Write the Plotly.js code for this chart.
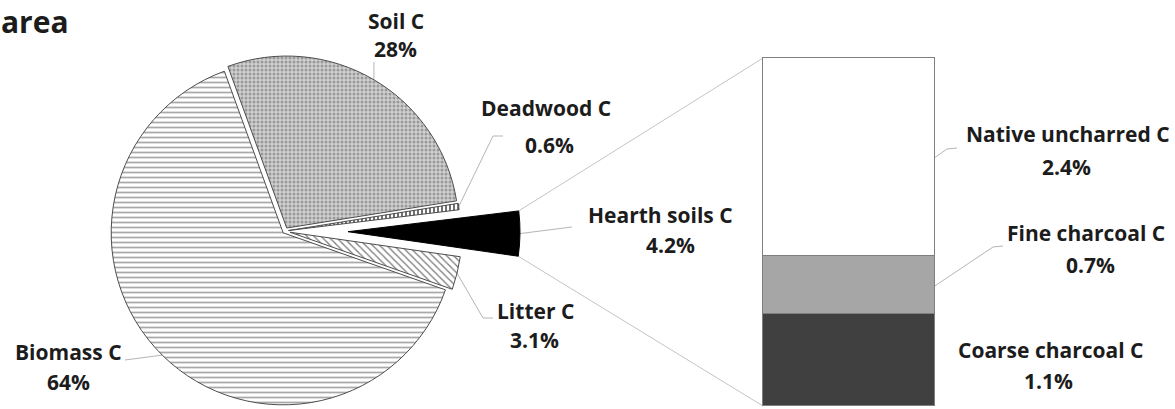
<!DOCTYPE html>
<html>
<head>
<meta charset="utf-8">
<script src="https://cdn.plot.ly/plotly-3.0.1.min.js"></script>
<style>html,body{margin:0;padding:0;background:#fff;}#chart{width:1175px;height:409px;}</style>
</head>
<body>
<div id="chart"></div>
<script>
// ---------------- data ----------------
const titleText = 'area';
const pieCategories = ['Soil C', 'Deadwood C', 'Hearth soils C', 'Litter C', 'Biomass C'];
const pieValues = [28, 0.6, 4.2, 3.1, 64];
const explodedCategory = 'Hearth soils C';
const barCategories = ['Coarse charcoal C', 'Fine charcoal C', 'Native uncharred C'];
const barValues = [1.1, 0.7, 2.4];

// ---------------- layout / style ----------------
const W = 1175, H = 409;
const pieCenter = [285, 231], pieRadius = 172, explodeDist = 63;
const pieRotation = -20;
const piePull = [0.02, 0.02, 0, 0.03, 0.015];
const pieBg = ['#d0d0d0', '#ffffff', '#000000', '#ffffff', '#ffffff'];
const pieFg = ['#999999', '#333333', '#000000', '#7a7a7a', '#a9a9a9'];
const pieShape = ['.', '|', '', '\\', '-'];
const pieSize = [4, 4, 8, 5, 5];
const pieSolid = [0.45, 0.35, 0.3, 0.25, 0.35];
const barColors = ['#404040', '#a6a6a6', '#ffffff'];
const barBox = {x0: 763, x1: 935, y0: 58, y1: 406};
const barPadX = 0.03, barPadYLo = 0.03, barPadYHi = 0.08;
const lineGray = '#b5b5b5';
const textColor = '#1c1c1c';
const fontFam = 'Open Sans, Noto Sans, sans-serif';
const fontSize = 21;
const labelPos = {
  'Soil C': {name: [396, 21], value: [396, 49], path: [[374, 62]]},
  'Deadwood C': {name: [546, 108], value: [549, 145], path: [[493, 136], [503, 136]]},
  'Hearth soils C': {name: [660, 215], value: [670, 245], path: [[572, 227]]},
  'Litter C': {name: [535, 311], value: [534, 340], path: [[483, 318], [493, 318]]},
  'Biomass C': {name: [68, 352], value: [68, 382], path: [[125, 360]]},
  'Native uncharred C': {name: [1068, 134], value: [1066, 167], path: [[947, 149], [957, 148]]},
  'Fine charcoal C': {name: [1086, 233], value: [1090, 265], path: [[993, 247], [1003, 246]]},
  'Coarse charcoal C': {name: [1050, 350], value: [1048, 381], path: null}
};

const px = x => x / W;
const py = y => 1 - y / H;
const T = 'rgba(0,0,0,0)';

// slice angles (degrees clockwise from 12 o'clock)
const total = pieValues.reduce((a, b) => a + b, 0);
const sliceAngles = [];
let acc = 0;
pieValues.forEach(v => {
  const a0 = pieRotation + acc / total * 360;
  acc += v;
  const a1 = pieRotation + acc / total * 360;
  sliceAngles.push([a0, a1, (a0 + a1) / 2]);
});
const dirOf = deg => [Math.sin(deg * Math.PI / 180), -Math.cos(deg * Math.PI / 180)];

// main pie domain
const maxPull = Math.max(...piePull);
const halfD = pieRadius * (1 + maxPull);
const mainDomain = {
  x: [px(pieCenter[0] - halfD), px(pieCenter[0] + halfD)],
  y: [Math.max(0, py(pieCenter[1] + halfD)), py(pieCenter[1] - halfD)]
};
// exploded slice pie
const hi = pieCategories.indexOf(explodedCategory);
const hDir = dirOf(sliceAngles[hi][2]);
const apex = [pieCenter[0] + explodeDist * hDir[0], pieCenter[1] + explodeDist * hDir[1]];
const expDomain = {
  x: [px(apex[0] - pieRadius), px(apex[0] + pieRadius)],
  y: [py(apex[1] + pieRadius), py(apex[1] - pieRadius)]
};

const mainPie = {
  type: 'pie', labels: pieCategories, values: pieValues, sort: false,
  direction: 'clockwise', rotation: pieRotation, textinfo: 'none', hoverinfo: 'label+percent',
  showlegend: false, domain: mainDomain,
  pull: piePull,
  marker: {
    colors: pieBg.map((c, i) => i === hi ? T : c),
    line: {color: pieCategories.map((c, i) => i === hi ? T : '#4d4d4d'), width: 1},
    pattern: {
      shape: pieShape.map((s, i) => i === hi ? '' : s),
      fgcolor: pieFg.map((c, i) => i === hi ? T : c),
      bgcolor: pieBg.map((c, i) => i === hi ? T : c),
      size: pieSize, solidity: pieSolid, fillmode: 'replace'
    }
  }
};
const explodedPie = {
  type: 'pie', labels: pieCategories, values: pieValues, sort: false,
  direction: 'clockwise', rotation: pieRotation, textinfo: 'none', hoverinfo: 'skip',
  showlegend: false, domain: expDomain,
  marker: {
    colors: pieBg.map((c, i) => i === hi ? c : T),
    line: {color: pieCategories.map((c, i) => i === hi ? '#000000' : T), width: 1}
  }
};

const barTotal = barValues.reduce((a, b) => a + b, 0);
const barTraces = barCategories.map((c, i) => ({
  type: 'bar', x: [0], y: [barValues[i]], name: c, width: 1,
  xaxis: 'x', yaxis: 'y', showlegend: false, cliponaxis: false,
  marker: {color: barColors[i], line: {color: '#7f7f7f', width: 1}},
  hovertemplate: c + ': %{y}%<extra></extra>'
}));
// axis geometry so that the bar (width 1, height = total) fills barBox
const pxPerX = barBox.x1 - barBox.x0;
const pxPerY = (barBox.y1 - barBox.y0) / barTotal;
const xDom = [px(barBox.x0 - barPadX * pxPerX), px(barBox.x1 + barPadX * pxPerX)];
const yDom = [py(barBox.y1 + barPadYLo * pxPerY), py(barBox.y0 - barPadYHi * pxPerY)];

// annotations
const annotations = [{
  text: '<b>' + titleText + '</b>', x: 0, y: 1, xref: 'paper', yref: 'paper',
  xanchor: 'left', yanchor: 'top', showarrow: false, borderpad: 0,
  font: {family: fontFam, size: 30, color: textColor}
}];
const fmt = v => v + '%';
function addLabel(name, value) {
  const p = labelPos[name];
  annotations.push({text: '<b>' + name + '</b>', x: px(p.name[0]), y: py(p.name[1]),
    xref: 'paper', yref: 'paper', xanchor: 'center', yanchor: 'middle', showarrow: false,
    font: {family: fontFam, size: fontSize, color: textColor}});
  annotations.push({text: '<b>' + fmt(value) + '</b>', x: px(p.value[0]), y: py(p.value[1]),
    xref: 'paper', yref: 'paper', xanchor: 'center', yanchor: 'middle', showarrow: false,
    font: {family: fontFam, size: fontSize, color: textColor}});
}
pieCategories.forEach((c, i) => addLabel(c, pieValues[i]));
barCategories.forEach((c, i) => addLabel(c, barValues[i]));

// leader lines and connectors
const shapes = [];
function polyline(pts, color) {
  const d = pts.map((p, k) => (k ? 'L ' : 'M ') + px(p[0]).toFixed(5) + ' ' + py(p[1]).toFixed(5)).join(' ');
  shapes.push({type: 'path', xref: 'paper', yref: 'paper', path: d, line: {color: color, width: 1}, layer: 'below'});
}
pieCategories.forEach((c, i) => {
  let start;
  const dir = dirOf(sliceAngles[i][2]);
  if (i === hi) start = [apex[0] + pieRadius * dir[0], apex[1] + pieRadius * dir[1]];
  else {
    const rr = pieRadius * (1 + piePull[i]);
    start = [pieCenter[0] + rr * dir[0], pieCenter[1] + rr * dir[1]];
  }
  let pts = labelPos[c].path.map(p => p.slice());
  if (c === 'Soil C') pts = [[start[0], pts[0][1]]];
  polyline([start].concat(pts), lineGray);
});
const barY = v => barBox.y1 - v * pxPerY;
let cum = 0;
barCategories.forEach((c, i) => {
  const mid = cum + barValues[i] / 2;
  cum += barValues[i];
  const p = labelPos[c].path;
  if (p) polyline([[barBox.x1, barY(mid)]].concat(p), lineGray);
});
// connectors from exploded wedge to stacked bar
const dTop = dirOf(sliceAngles[hi][0]), dBot = dirOf(sliceAngles[hi][1]);
polyline([[apex[0] + pieRadius * dTop[0], apex[1] + pieRadius * dTop[1]], [barBox.x0, barY(barTotal)]], '#c4c4c4');
polyline([[apex[0] + pieRadius * dBot[0], apex[1] + pieRadius * dBot[1]], [barBox.x0, barY(0)]], '#c4c4c4');

const layout = {
  width: W, height: H, margin: {l: 0, r: 0, t: 0, b: 0},
  paper_bgcolor: '#ffffff', plot_bgcolor: 'rgba(0,0,0,0)',
  barmode: 'stack', bargap: 0,
  xaxis: {domain: xDom, range: [-0.5 - barPadX, 0.5 + barPadX], visible: false, fixedrange: true},
  yaxis: {domain: yDom, range: [-barPadYLo, barTotal + barPadYHi], visible: false, fixedrange: true},
  annotations: annotations, shapes: shapes,
  font: {family: fontFam}
};
Plotly.newPlot('chart', [mainPie, explodedPie].concat(barTraces), layout, {displayModeBar: false});
</script>
</body>
</html>
